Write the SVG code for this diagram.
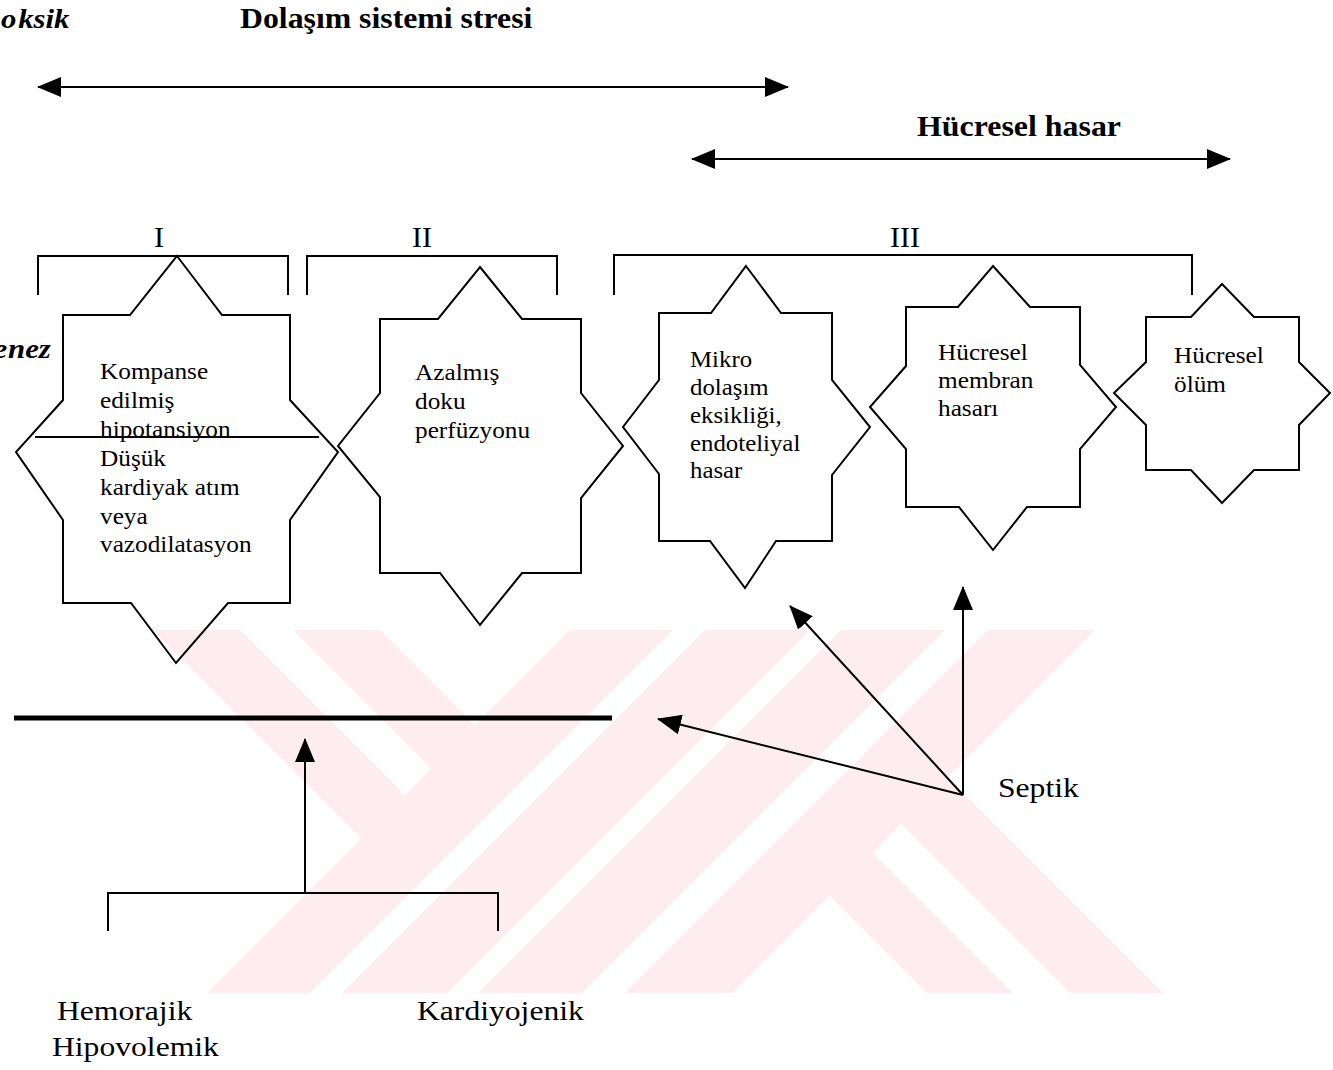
<svg xmlns="http://www.w3.org/2000/svg" width="1333" height="1070" viewBox="0 0 1333 1070">
<style>
.wm{fill:#fdedf1;stroke:none}
.st{fill:none;stroke:#000;stroke-width:2;stroke-linejoin:miter}
.ln{fill:none;stroke:#000;stroke-width:2}
.t{font-family:"Liberation Serif","Times New Roman",serif;font-size:23px;fill:#000}
.big{font-family:"Liberation Serif","Times New Roman",serif;font-size:28px;fill:#000}
.ttl{font-family:"Liberation Serif","Times New Roman",serif;font-size:29px;font-weight:bold;fill:#000}
.frag{font-family:"Liberation Serif","Times New Roman",serif;font-size:28px;font-weight:bold;font-style:italic;fill:#000}
.rn{font-family:"Liberation Serif","Times New Roman",serif;font-size:30px;fill:#000;text-anchor:middle}
</style>
<defs>
<marker id="ah" viewBox="0 0 24 20" markerWidth="24" markerHeight="20" refX="23" refY="10" orient="auto-start-reverse" markerUnits="userSpaceOnUse">
<path d="M0,0 L24,10 L0,20 z" fill="#000"/>
</marker>
</defs>
<rect x="0" y="0" width="1333" height="1070" fill="#fff"/>

<g id="watermark">
<polygon class="wm" points="570,630 673,630 310,993 207,993"/>
<polygon class="wm" points="705,630 810,630 447,993 342,993"/>
<polygon class="wm" points="841,630 945,630 582,993 478,993"/>
<polygon class="wm" points="988,630 1095,630 732,993 625,993"/>
<polygon class="wm" points="153,630 240,630 449,839 362,839"/>
<polygon class="wm" points="293,630 380,630 519,769 432,769"/>
<polygon class="wm" points="786,852 872,852 1013,993 927,993"/>
<polygon class="wm" points="854,777 947,777 1163,993 1070,993"/>
</g>

<g id="headers">
<text class="frag" transform="translate(0,28) scale(1.1,1)" x="1 16.5">oksik</text>
<text class="ttl" transform="translate(240,28) scale(1.096,1)">Dolaşım sistemi stresi</text>
<text class="ttl" transform="translate(917,136) scale(1.1,1)">Hücresel hasar</text>
<text class="frag" transform="translate(0,358) scale(1.1,1)" x="-6 7.3">enez</text>
<text class="rn" x="159" y="247">I</text>
<text class="rn" x="422" y="247">II</text>
<text class="rn" x="905" y="247">III</text>
</g>

<g id="brackets">
<polyline class="ln" points="38,295 38,256 288,256 288,295"/>
<polyline class="ln" points="307,295 307,256 557,256 557,295"/>
<polyline class="ln" points="614,295 614,255 1192,255 1192,295"/>
<polyline class="ln" points="108,931 108,893 498,893 498,931"/>
</g>

<g id="star1">
<polygon class="st" points="177,256 222,315 290,315 290,400 338,452 290,520 290,603 228,603 176,663 131,603 63,603 63,520 16,452 63,400 63,315 130,315"/>
<line class="ln" x1="35" y1="437" x2="319" y2="437"/>
<text class="t" transform="translate(100,379) scale(1.1,1)"><tspan x="0">Kompanse</tspan><tspan x="0" dy="29">edilmiş</tspan><tspan x="0" dy="29">hipotansiyon</tspan><tspan x="0" dy="29">Düşük</tspan><tspan x="0" dy="29">kardiyak atım</tspan><tspan x="0" dy="29">veya</tspan><tspan x="0" dy="28">vazodilatasyon</tspan></text>
</g>

<g id="star2">
<polygon class="st" points="480,267 522,319 581,319 581,393 623,446 581,498 581,573 522,573 480,625 440,573 380,573 380,497 338,446 380,393 380,319 438,319"/>
<text class="t" transform="translate(415,380) scale(1.1,1)"><tspan x="0">Azalmış</tspan><tspan x="0" dy="29">doku</tspan><tspan x="0" dy="29">perfüzyonu</tspan></text>
</g>

<g id="star3">
<polygon class="st" points="746,266 781,313 832,313 832,380 870,427 832,475 832,541 776,541 745,588 710,541 659,541 659,474 623,427 659,380 659,313 711,313"/>
<text class="t" transform="translate(690,367) scale(1.08,1)"><tspan x="0">Mikro</tspan><tspan x="0" dy="28">dolaşım</tspan><tspan x="0" dy="28">eksikliği,</tspan><tspan x="0" dy="28">endoteliyal</tspan><tspan x="0" dy="27">hasar</tspan></text>
</g>

<g id="star4">
<polygon class="st" points="993,266 1030,307 1080,307 1080,365 1116,407 1080,449 1080,507 1027,507 993,550 959,507 906,507 906,449 870,407 906,366 906,307 958,307"/>
<text class="t" transform="translate(938,360) scale(1.1,1)"><tspan x="0">Hücresel</tspan><tspan x="0" dy="28">membran</tspan><tspan x="0" dy="28">hasarı</tspan></text>
</g>

<g id="star5">
<polygon class="st" points="1222,284 1254,317 1299,317 1299,362 1330,393 1299,425 1299,470 1254,470 1222,503 1191,470 1146,470 1146,425 1114,393 1146,362 1146,317 1191,317"/>
<text class="t" transform="translate(1174,363) scale(1.1,1)"><tspan x="0">Hücresel</tspan><tspan x="0" dy="29">ölüm</tspan></text>
</g>

<g id="labels">
<text class="big" transform="translate(57,1020) scale(1.13,1)">Hemorajik</text>
<text class="big" transform="translate(52,1056) scale(1.13,1)">Hipovolemik</text>
<text class="big" transform="translate(417,1020) scale(1.13,1)">Kardiyojenik</text>
<text class="big" transform="translate(998,797) scale(1.13,1)">Septik</text>
</g>

<g id="connectors">
<line class="ln" x1="38" y1="87" x2="788" y2="87" marker-start="url(#ah)" marker-end="url(#ah)"/>
<line class="ln" x1="692" y1="159" x2="1230" y2="159" marker-start="url(#ah)" marker-end="url(#ah)"/>
<line x1="14" y1="718" x2="612" y2="718" stroke="#000" stroke-width="5"/>
<line class="ln" x1="305" y1="893" x2="305" y2="739" marker-end="url(#ah)"/>
<line class="ln" x1="963" y1="795" x2="963" y2="587" marker-end="url(#ah)"/>
<line class="ln" x1="963" y1="795" x2="790" y2="606" marker-end="url(#ah)" stroke-width="2.5"/>
<line class="ln" x1="963" y1="795" x2="658" y2="719" marker-end="url(#ah)" stroke-width="3"/>
</g>
</svg>
